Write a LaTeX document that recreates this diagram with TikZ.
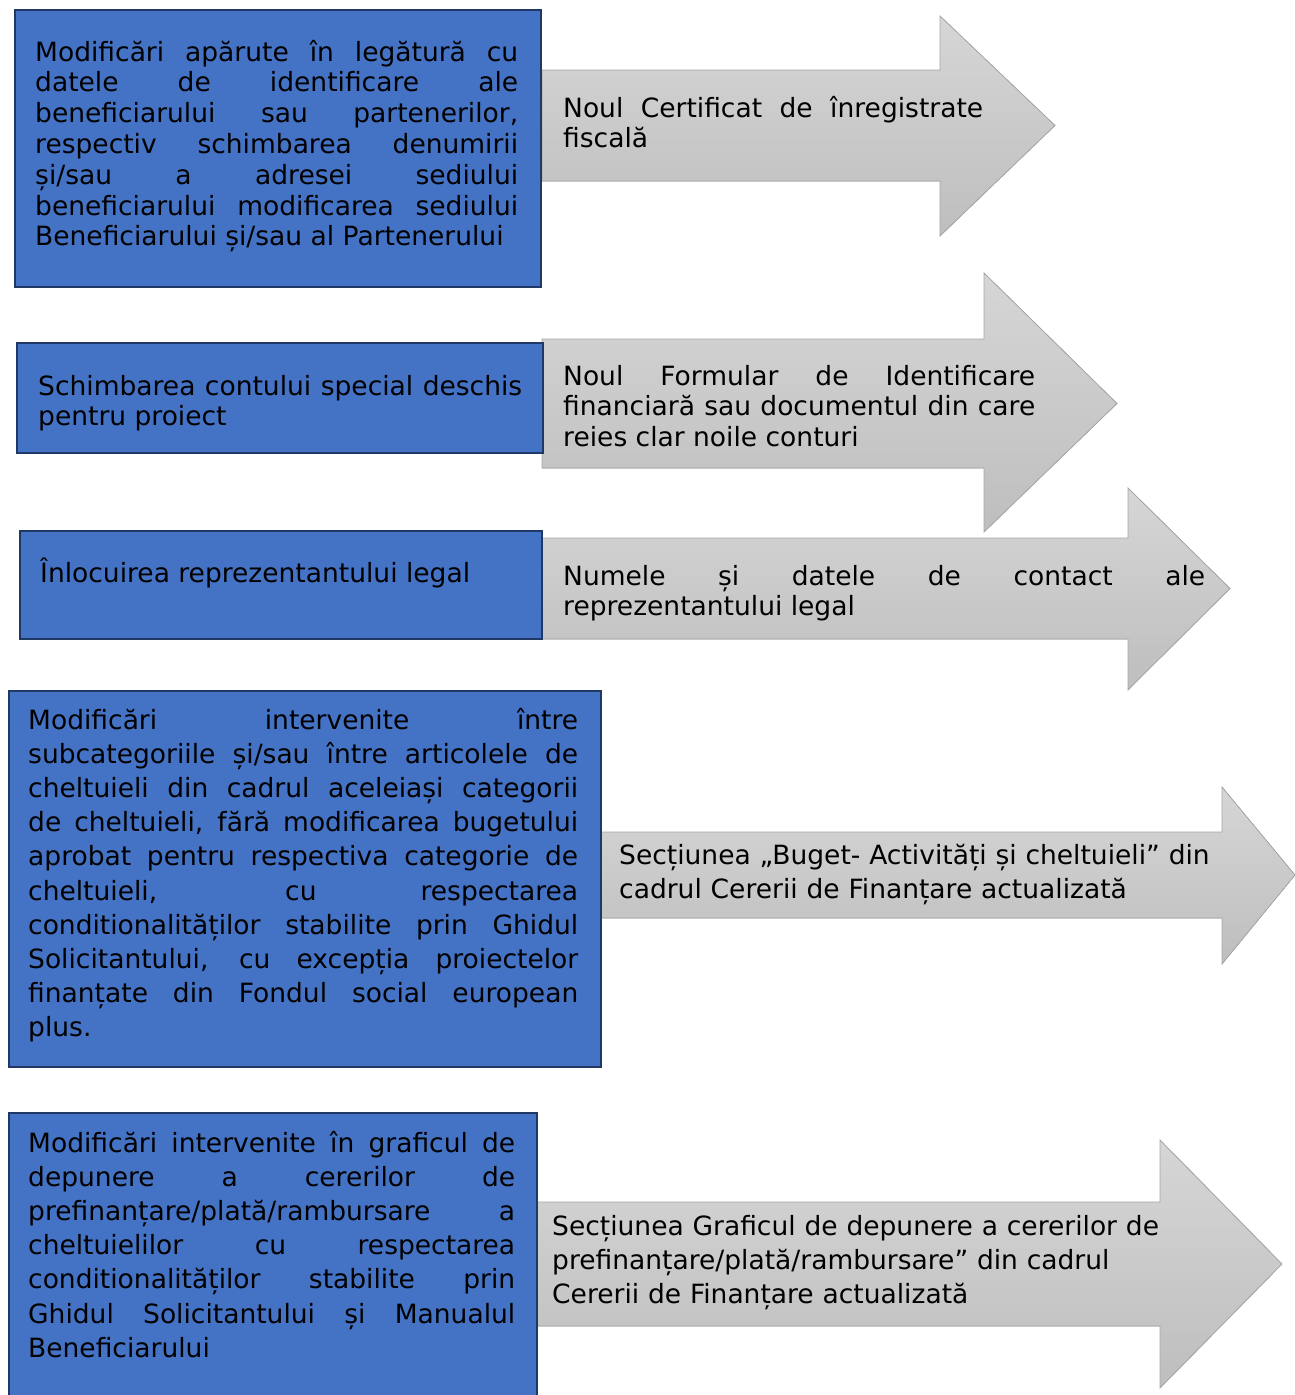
\documentclass[tikz,border=0pt]{standalone}
\usepackage{fontspec}
\setmainfont{DejaVu Sans}
\usepackage{xcolor}
\definecolor{boxblue}{HTML}{4472C4}
\definecolor{boxline}{HTML}{203864}
\definecolor{arrowtop}{HTML}{D6D6D6}
\definecolor{arrowbot}{HTML}{BEBEBE}
\definecolor{arrowline}{HTML}{A6A6A6}

\begin{document}
\begin{tikzpicture}[x = 1pt, y = -1pt,
	bluebox/.style = {fill = boxblue, draw = boxline, line width = 2pt, anchor = north west, inner sep = 0pt},
	grayarrow/.style = {top color = arrowtop, bottom color = arrowbot, draw = arrowline, line width = 0.8pt},
	txt/.style = {inner sep = 0pt, anchor = base west, align = justify,
		font = {\fontsize{26.5}{30.8}\selectfont\tolerance=10000 \hbadness=10000 \hyphenpenalty=10000 \exhyphenpenalty=10000}},
	txtloose/.style = {txt, font = {\fontsize{26.5}{34.2}\selectfont\tolerance=10000 \hbadness=10000 \hyphenpenalty=10000 \exhyphenpenalty=10000}}]
	\useasboundingbox (0,0) rectangle (1295,1395);
	\clip (0,0) rectangle (1295,1395);

	% sagetile gri
	\foreach \xa/\ya/\yb/\xh/\yh/\yk/\xt in {542/70/181/940/16/236/1055, 542/339/468/984/273/532/1117, 542/538/639/1128/488/690/1230, 600/832/918/1222/787/964/1295, 536/1202/1326/1160/1140/1388/1282}
	{
		\filldraw [grayarrow] (\xa,\ya) -- (\xh,\ya) -- (\xh,\yh) -- (\xt,{(\ya+\yb)/2}) -- (\xh,\yk) -- (\xh,\yb) -- (\xa,\yb) -- cycle;
	}

	% casetele albastre
	\node [bluebox, minimum width = 526, minimum height = 277] (box1) at (14,9) {};
	\node [bluebox, minimum width = 526, minimum height = 110] (box2) at (16,342) {};
	\node [bluebox, minimum width = 522, minimum height = 108] (box3) at (19,530) {};
	\node [bluebox, minimum width = 592, minimum height = 376] (box4) at (8,690) {};
	\node [bluebox, minimum width = 528, minimum height = 300] (box5) at (8,1112) {};

	% textele din casete
	\node [txt, text width = 483] (cause1) at (35,61) {Modificări apărute în legătură cu\linebreak datele de identificare ale\linebreak beneficiarului sau partenerilor,\linebreak respectiv schimbarea denumirii\linebreak și/sau a adresei sediului\linebreak beneficiarului modificarea sediului\linebreak Beneficiarului și/sau al Partenerului};
	\node [txt, text width = 484] (cause2) at (38,395) {Schimbarea contului special deschis\linebreak pentru proiect};
	\node [txt, text width = 484] (cause3) at (40,582) {Înlocuirea reprezentantului legal};
	\node [txtloose, text width = 550] (cause4) at (28,729) {Modificări intervenite între\linebreak subcategoriile și/sau între articolele de\linebreak cheltuieli din cadrul aceleiași categorii\linebreak de cheltuieli, fără modificarea bugetului\linebreak aprobat pentru respectiva categorie de\linebreak cheltuieli, cu respectarea\linebreak conditionalităților stabilite prin Ghidul\linebreak Solicitantului, cu excepția proiectelor\linebreak finanțate din Fondul social european\linebreak plus.};
	\node [txtloose, text width = 487] (cause5) at (28,1152) {Modificări intervenite în graficul de\linebreak depunere a cererilor de\linebreak prefinanțare/plată/rambursare a\linebreak cheltuielilor cu respectarea\linebreak conditionalităților stabilite prin\linebreak Ghidul Solicitantului și Manualul\linebreak Beneficiarului};

	% textele din sageti
	\node [txt, text width = 420] (doc1) at (563,117) {Noul Certificat de înregistrate\linebreak fiscală};
	\node [txt, text width = 472] (doc2) at (563,385) {Noul Formular de Identificare\linebreak financiară sau documentul din care\linebreak reies clar noile conturi};
	\node [txt, text width = 642] (doc3) at (563,585) {Numele și datele de contact ale\linebreak reprezentantului legal};
	\node [txtloose, text width = 640, align = left] (doc4) at (619,864) {Secțiunea „Buget- Activități și cheltuieli” din\\ cadrul Cererii de Finanțare actualizată};
	\node [txtloose, text width = 640, align = left] (doc5) at (552,1235) {Secțiunea Graficul de depunere a cererilor de\\ prefinanțare/plată/rambursare” din cadrul\\ Cererii de Finanțare actualizată};
\end{tikzpicture}
\end{document}
